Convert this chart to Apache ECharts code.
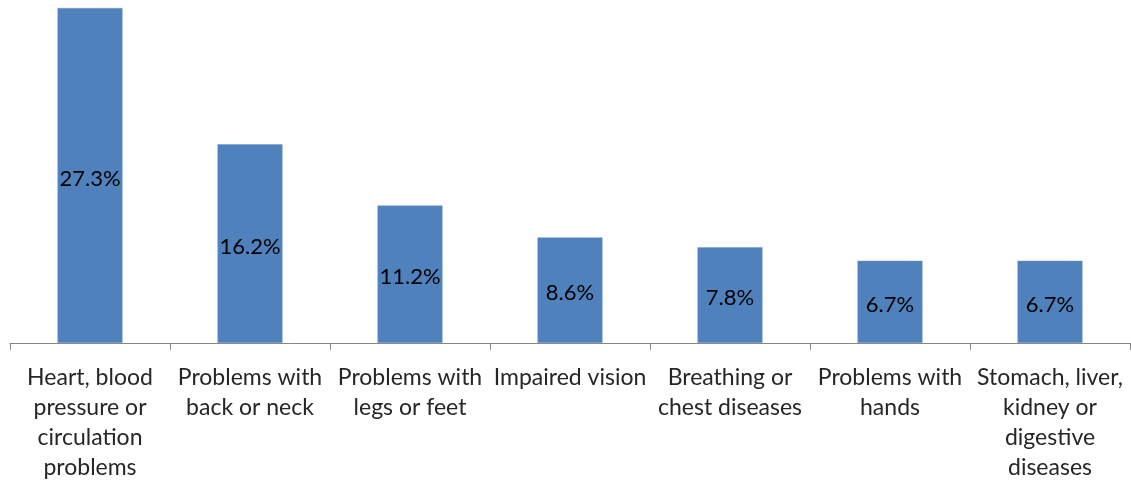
<!DOCTYPE html>
<html>
<head>
<meta charset="utf-8">
<script src="https://cdn.jsdelivr.net/npm/echarts@6/dist/echarts.min.js"></script>
<style>html,body{margin:0;padding:0;background:#fff;}#c{width:1131px;height:485px;}</style>
</head>
<body>
<div id="c"></div>
<script>
const categories = [
  "Heart, blood\npressure or\ncirculation\nproblems",
  "Problems with\nback or neck",
  "Problems with\nlegs or feet",
  "Impaired vision",
  "Breathing or\nchest diseases",
  "Problems with\nhands",
  "Stomach, liver,\nkidney or\ndigestive\ndiseases"
];
const values = [27.3, 16.2, 11.2, 8.6, 7.8, 6.7, 6.7];

const chart = echarts.init(document.getElementById('c'), null, {renderer: 'canvas'});
chart.setOption({
  animation: false,
  grid: {left: 10, right: 1, top: 8, bottom: 142, containLabel: false},
  xAxis: {
    type: 'category',
    data: categories,
    boundaryGap: true,
    axisLine: {lineStyle: {color: '#868686', width: 1}},
    axisTick: {show: true, length: 7, alignWithLabel: false, lineStyle: {color: '#868686'}},
    axisLabel: {
      interval: 0,
      margin: 20,
      color: '#262626',
      fontFamily: 'Lato',
      fontSize: 23,
      lineHeight: 30,
      align: 'center'
    }
  },
  yAxis: {
    type: 'value',
    min: 0,
    max: 27.3,
    show: false,
    splitLine: {show: false}
  },
  series: [{
    type: 'bar',
    data: values,
    barWidth: 65,
    itemStyle: {color: '#4F81BD', borderColor: '#6E98CC', borderWidth: 0.5},
    label: {
      show: true,
      position: 'inside',
      offset: [0, 3],
      formatter: p => p.value.toFixed(1) + '%',
      color: '#000',
      fontFamily: 'Lato',
      fontSize: 22
    }
  }]
});
</script>
</body>
</html>
